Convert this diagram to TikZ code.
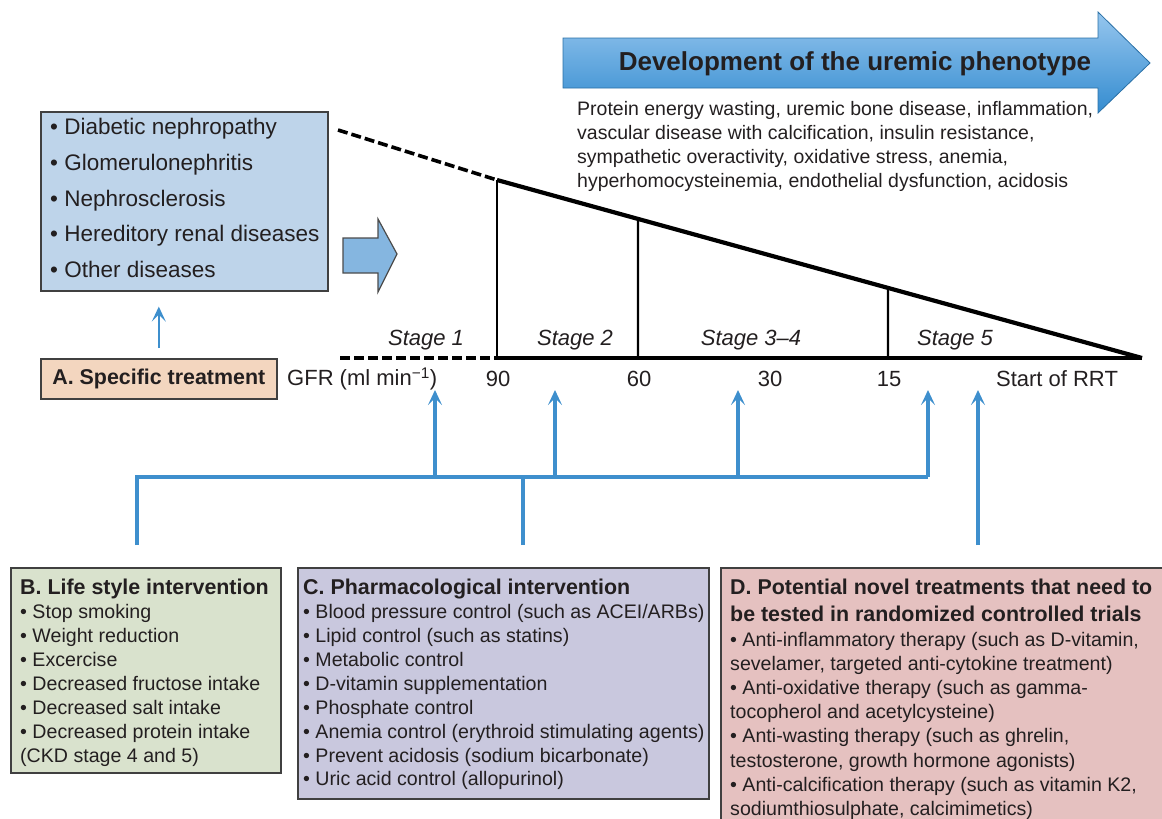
\documentclass[tikz,border=0pt]{standalone}
\usepackage{fontspec}
\setmainfont{Liberation Sans}
\usetikzlibrary{arrows.meta,calc}
\definecolor{linkblue}{RGB}{62,143,205}
\definecolor{diseasefill}{RGB}{190,212,234}
\definecolor{specfill}{RGB}{243,214,191}
\definecolor{lifefill}{RGB}{217,226,205}
\definecolor{pharmfill}{RGB}{201,200,222}
\definecolor{novelfill}{RGB}{229,193,192}
\definecolor{arrowlight}{RGB}{150,198,238}
\definecolor{arrowdark}{RGB}{52,140,208}
\definecolor{blockblue}{RGB}{133,182,224}
\definecolor{inkgray}{RGB}{35,31,32}
\newcommand{\fsz}[2]{\fontsize{#1}{#2}\selectfont}

\begin{document}
\begin{tikzpicture}[x=1pt,y=-1pt,
    every node/.style={text=inkgray},
    link/.style={draw=linkblue,line width=3.4pt},
    uplink/.style={link,-{Stealth[length=15pt,width=14pt,inset=7pt]}},
    panel/.style={draw=black!75,line width=1.6pt,anchor=north west,inner sep=0pt},
    listtext/.style={anchor=north west,inner sep=0pt,align=left,font=\fsz{19.6}{23.9}},
    stagelabel/.style={font=\fsz{22}{24}\itshape},
    gfrlabel/.style={font=\fsz{22}{24}}]
  \useasboundingbox (0,0) rectangle (1162,819);

  % uremic phenotype arrow
  \shadedraw[top color=arrowlight,bottom color=arrowdark,draw=arrowdark!80!black,line width=0.8pt]
    (563,38) -- (1098,38) -- (1098,12) -- (1150,63) -- (1098,113) -- (1098,88) -- (563,88) -- cycle;
  \node (uremic) at (855,64) {\fsz{26}{30}\bfseries Development of the uremic phenotype};
  \node[listtext,font=\fsz{19.5}{24}] (features) at (577,101)
    {Protein energy wasting, uremic bone disease, inflammation,\\
     vascular disease with calcification, insulin resistance,\\
     sympathetic overactivity, oxidative stress, anemia,\\
     hyperhomocysteinemia, endothelial dysfunction, acidosis};

  % primary diseases
  \node[panel,fill=diseasefill,minimum width=287pt,minimum height=179pt] (diseases) at (40,111) {};
  \node[listtext,font=\fsz{22.5}{35.8}] (dislist) at (50,118)
    {• Diabetic nephropathy\\
     • Glomerulonephritis\\
     • Nephrosclerosis\\
     • Hereditory renal diseases\\
     • Other diseases};
  \draw[fill=blockblue,draw=black!70,line width=1.2pt]
    (343,238) -- (378,238) -- (378,219) -- (397,254) -- (378,292) -- (378,273) -- (343,273) -- cycle;

  % specific treatment
  \node[panel,fill=specfill,minimum width=236pt,minimum height=40pt] (spec) at (40,358)
    {\fsz{21.4}{24}\bfseries A. Specific treatment};
  \draw[uplink,line width=2.6pt] ($(spec.north)+(0,-10)$) -- ($(spec.north |- diseases.south)+(0,15)$);

  % GFR triangle
  \coordinate (dashtop) at (338,130);
  \coordinate (dashbase) at (340,358);
  \coordinate (apex) at (497,180);
  \coordinate (base1) at (497,358);
  \coordinate (base2) at (638,358);
  \coordinate (base3) at (888,358);
  \coordinate (rrt) at (1142,358);
  \draw[line width=3.6pt,dash pattern=on 10pt off 4pt] (dashtop) -- (apex);
  \draw[line width=3.6pt,dash pattern=on 10pt off 4pt] (dashbase) -- (base1);
  \draw[line width=4.2pt] (apex) -- (rrt);
  \draw[line width=3.6pt] (base1) -- (rrt);
  \draw[line width=2.4pt] (base1) -- (apex);
  \draw[line width=2.4pt] (base2) -- ($(apex)!{141/645}!(rrt)$);
  \draw[line width=2.4pt] (base3) -- ($(apex)!{391/645}!(rrt)$);

  % stages
  \node[stagelabel] (st1) at (426,340) {Stage 1};
  \node[stagelabel] (st2) at (575,340) {Stage 2};
  \node[stagelabel] (st34) at (751,340) {Stage 3–4};
  \node[stagelabel] (st5) at (955,340) {Stage 5};

  % GFR values
  \node[gfrlabel,anchor=west,inner sep=0pt] (gfr) at (287,379) {GFR (ml min\textsuperscript{−1})};
  \node[gfrlabel] (gfr90) at (498,379) {90};
  \node[gfrlabel] (gfr60) at (639,379) {60};
  \node[gfrlabel] (gfr30) at (770,379) {30};
  \node[gfrlabel] (gfr15) at (889,379) {15};
  \node[gfrlabel] (gfrrrt) at (1057,379) {Start of RRT};

  % intervention links
  \coordinate (lifeEnd) at (137,545);
  \coordinate (pharmEnd) at (523,545);
  \coordinate (novelEnd) at (978,545);
  \coordinate (busE) at (928,477);
  \draw[link] (lifeEnd) |- (busE);
  \draw[link] (pharmEnd) -- (pharmEnd |- busE);
  \foreach \x [count=\i] in {435,555,738,928} {
    \coordinate (up\i) at (\x,390);
    \draw[uplink] (up\i |- busE) -- (up\i);
  }
  \draw[uplink] (novelEnd) -- (novelEnd |- up1);

  % B. life style
  \node[panel,fill=lifefill,minimum width=270pt,minimum height=205pt] (life) at (10,567) {};
  \node[listtext] (lifelist) at (20,579)
    {{\bfseries\fsz{21.4}{23.9}B. Life style intervention}\\
     • Stop smoking\\
     • Weight reduction\\
     • Excercise\\
     • Decreased fructose intake\\
     • Decreased salt intake\\
     • Decreased protein intake\\
     (CKD stage 4 and 5)};

  % C. pharmacological
  \node[panel,fill=pharmfill,minimum width=411pt,minimum height=231pt] (pharm) at (297,567) {};
  \node[listtext] (pharmlist) at (303,579)
    {{\bfseries\fsz{21.4}{23.9}C. Pharmacological intervention}\\
     • Blood pressure control (such as ACEI/ARBs)\\
     • Lipid control (such as statins)\\
     • Metabolic control\\
     • D-vitamin supplementation\\
     • Phosphate control\\
     • Anemia control (erythroid stimulating agents)\\
     • Prevent acidosis (sodium bicarbonate)\\
     • Uric acid control (allopurinol)};

  % D. novel treatments
  \begin{scope}
    \clip (0,0) rectangle (1162,819);
    \node[panel,fill=novelfill,minimum width=450pt,minimum height=265pt] (novel) at (720,567) {};
  \end{scope}
  \node[listtext,font=\fsz{19.6}{24.2}] (novellist) at (730,579)
    {{\bfseries\fsz{21.4}{24}D. Potential novel treatments that need to}\\[3pt]
     {\bfseries\fsz{21.4}{24}be tested in randomized controlled trials}\\
     • Anti-inflammatory therapy (such as D-vitamin,\\
     sevelamer, targeted anti-cytokine treatment)\\
     • Anti-oxidative therapy (such as gamma-\\
     tocopherol and acetylcysteine)\\
     • Anti-wasting therapy (such as ghrelin,\\
     testosterone, growth hormone agonists)\\
     • Anti-calcification therapy (such as vitamin K2,\\
     sodiumthiosulphate, calcimimetics)};
\end{tikzpicture}
\end{document}
